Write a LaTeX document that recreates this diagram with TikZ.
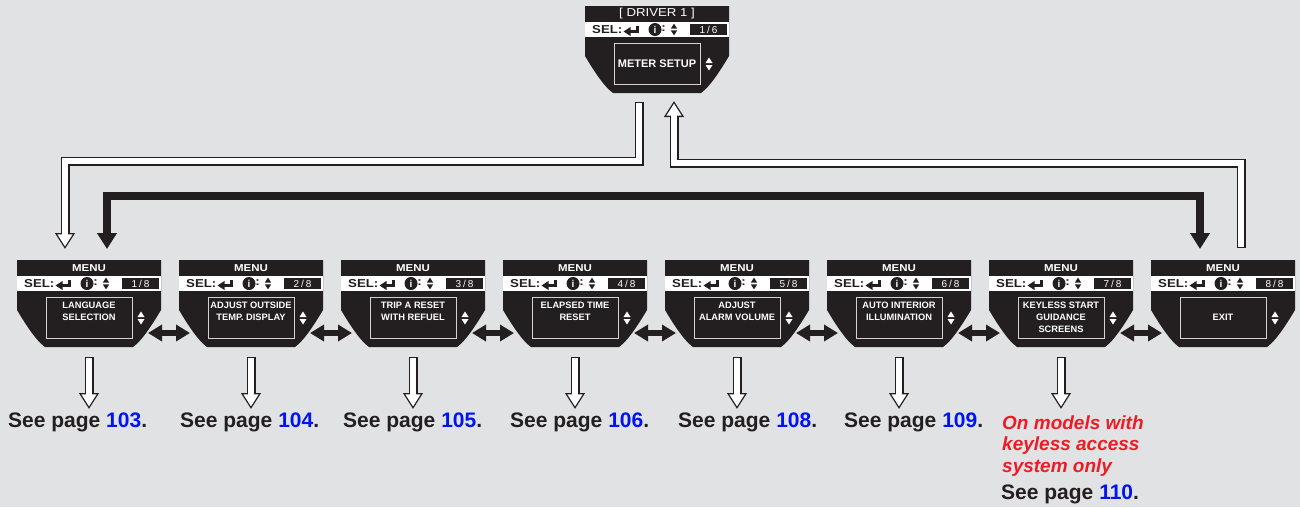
\documentclass[tikz,border=0pt]{standalone}
\usepackage{fontspec}
\setmainfont{Liberation Sans}
\newfontfamily\widefont[FakeStretch=1.15]{Liberation Sans}
\newfontfamily\idxfont[LetterSpace=20]{Liberation Sans}
\definecolor{PanelGray}{RGB}{225,226,228}
\definecolor{InkBlack}{RGB}{35,31,32}
\definecolor{PageBlue}{RGB}{0,20,240}
\definecolor{NoteRed}{RGB}{236,28,36}
\definecolor{FrameGray}{RGB}{210,210,210}
\usetikzlibrary{positioning,arrows.meta,calc}

\newcommand{\pg}[1]{\textcolor{PageBlue}{#1}}

\tikzset{
  updn/.pic={
    \fill (-3.5,-1) -- (3.5,-1) -- (0,-6.5) -- cycle;
    \fill (-3.5,1) -- (3.5,1) -- (0,6.5) -- cycle;
  },
  pics/screen/.style 2 args={code={
    \fill[InkBlack] (0,0) -- (144,0) -- (144,50) .. controls (138,60) and (126,80) .. (116,87)
      -- (28,87) .. controls (18,80) and (6,60) .. (0,50) -- cycle;
    \fill[white] (0,16) rectangle (144,31);
    \fill[InkBlack] (105,18) rectangle (142,29);
    \node[hdr] (-title) at (72,8) {#1};
    \node[sel, anchor=west] (-sel) at (7,23.5) {SEL:};
    \fill[InkBlack] (38.5,25.5) -- (45.5,21) -- (45.5,30) -- cycle;
    \draw[InkBlack, line width=3pt, line join=miter] (44,25.5) -- (52,25.5) -- (52,19.5);
    \node[info] (-info) at (70,23.5) {i};
    \node[sel] (-colon) at (78.5,23) {:};
    \pic[InkBlack, scale=0.9] at (89,23.5) {updn};
    \node[idx] (-idx) at (123.5,23.5) {#2};
    \node[frame] (-box) at (72,57.5) {};
    \pic[white] at (124,58) {updn};
    \coordinate (-top) at (72,0);
    \coordinate (-bot) at (72,87);
    \coordinate (-l) at (11,73);
    \coordinate (-r) at (131,73);
  }}
}

\begin{document}
\begin{tikzpicture}[x=1pt, y=-1pt,
    hdr/.style={text=white, inner sep=0, font=\widefont\bfseries\fontsize{10}{12}\selectfont},
    sel/.style={text=InkBlack, inner sep=0, font=\widefont\bfseries\fontsize{11.5}{13}\selectfont},
    info/.style={circle, fill=InkBlack, text=white, inner sep=0, minimum size=13pt, font=\bfseries\fontsize{10}{10}\selectfont},
    idx/.style={text=white, inner sep=0, font=\idxfont\fontsize{10}{11}\selectfont},
    frame/.style={draw=FrameGray, line width=0.8pt, minimum width=86pt, minimum height=41pt, inner sep=0},
    lbl/.style={text=white, align=center, inner sep=0, font=\bfseries\fontsize{9.3}{12}\selectfont},
    page/.style={anchor=west, inner sep=0, text=InkBlack, font=\bfseries\fontsize{21}{24}\selectfont},
    note/.style={anchor=west, align=left, inner sep=0, text=NoteRed, font=\bfseries\itshape\fontsize{19}{21.5}\selectfont},
    dblarr/.style={draw=InkBlack, line width=5.5pt, {Triangle[length=14pt,width=16pt]}-{Triangle[length=14pt,width=16pt]}},
    thickarr/.style={draw=InkBlack, line width=8.5pt, line join=miter, {Triangle[length=16pt,width=19pt]}-{Triangle[length=16pt,width=19pt]}},
    hollow/.style={draw=white, line width=6.4pt, line join=miter, -{Triangle[length=12.2pt,width=14.4pt]},
      shorten >=2.5pt, shorten <=1.3pt,
      preaction={draw=InkBlack, line width=9pt, -{Triangle[length=16pt,width=19pt]}, shorten >=0pt, shorten <=0pt}}
  ]
  \path[use as bounding box, fill=PanelGray] (0,0) rectangle (1300,507);

  % top screen
  \pic (drv) at (585,6) {screen={\widefont\mdseries\fontsize{11.5}{12}\selectfont[ DRIVER 1 ]}{1/6}};
  \node[lbl, font=\bfseries\fontsize{11}{12}\selectfont] (t0) at (drv-box.center) {METER SETUP};

  % menu screens
  \foreach \i/\lbl/\dy in {1/{LANGUAGE\\SELECTION}/6, 2/{ADJUST OUTSIDE\\TEMP. DISPLAY}/6,
      3/{TRIP A RESET\\WITH REFUEL}/6, 4/{ELAPSED TIME\\RESET}/6, 5/{ADJUST\\ALARM VOLUME}/6,
      6/{AUTO INTERIOR\\ILLUMINATION}/6, 7/{KEYLESS START\\GUIDANCE\\SCREENS}/0, 8/{EXIT}/0}{
    \pic (m\i) at ({17+162*(\i-1)},260) {screen={MENU}{\i/8}};
    \node[lbl] (t\i) at ([yshift=\dy pt]m\i-box.center) {\lbl};
  }

  \foreach \i [evaluate=\i as \j using int(\i+1)] in {1,...,7}
    \draw[dblarr] (m\i-r) -- (m\j-l);

  \foreach \i in {1,...,7}
    \draw[hollow] ([yshift=-10pt]m\i-bot) -- ++(0,52);

  % loop connectors
  \draw[hollow] ([xshift=-18pt,yshift=-9pt]drv-bot) -- ++(0,59) -| ([xshift=-24pt,yshift=11pt]m1-top);
  \draw[hollow] ([xshift=18pt,yshift=12pt]m8-top) -- ++(0,-85) -| ([xshift=17pt,yshift=-8pt]drv-bot);
  \draw[thickarr] ([xshift=18pt,yshift=11pt]m1-top) -- ++(0,-53) -| ([xshift=-23pt,yshift=11pt]m8-top);

  % page references
  \foreach \i/\x/\n in {1/8/103, 2/180/104, 3/343/105, 4/510/106, 5/678/108, 6/844/109}
    \node[page] (p\i) at (\x,422) {See page \pg{\n}.};
  \node[note] (n7) at (1002,446) {On models with\\keyless access\\system only};
  \node[page] (p7) at (1001,494) {See page \pg{110}.};
\end{tikzpicture}
\end{document}
